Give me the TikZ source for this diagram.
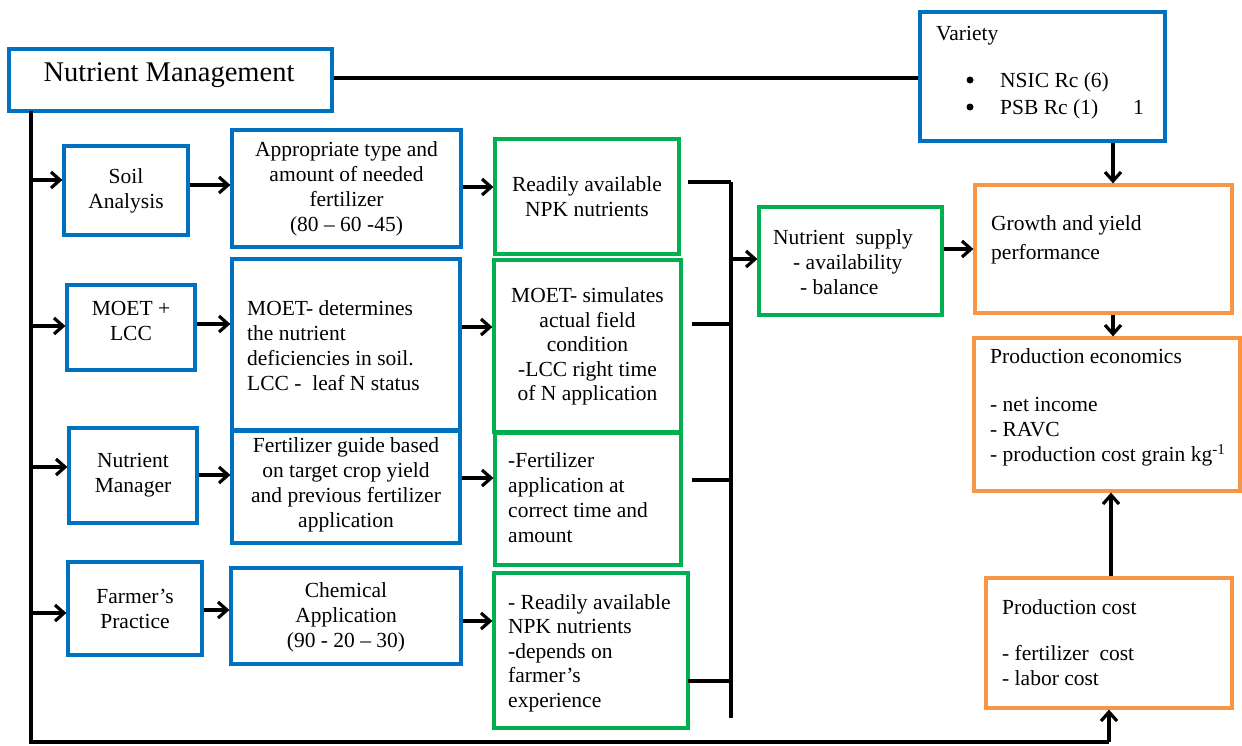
\documentclass[tikz,border=0pt]{standalone}
\usepackage{fontspec}
\setmainfont{Liberation Serif}
\usetikzlibrary{arrows.meta}
\definecolor{bblue}{RGB}{0,112,192}
\definecolor{bgreen}{RGB}{0,176,80}
\definecolor{borange}{RGB}{247,150,70}
\newcommand\fs{\fontsize{21.5}{25}\selectfont}
\begin{document}
\begin{tikzpicture}[x=1pt,y=-1pt,
  box/.style={draw, line width=3.2pt, inner sep=0pt},
  bluebox/.style={box, draw=bblue},
  greenbox/.style={box, draw=bgreen},
  orangebox/.style={box, draw=borange},
  txt/.style={inner sep=0pt, font=\fs, align=center},
  ltxt/.style={inner sep=0pt, font=\fs, align=left},
  bulletdot/.style={circle, fill=black, inner sep=0pt, minimum size=7pt},
  conn/.style={line width=3.2pt, black},
  arr/.style={conn, -{Straight Barb[length=9pt,width=16pt]}},
]
\useasboundingbox (0,0) rectangle (1242,745);
\fill[white] (0,0) rectangle (1242,745);

% ---- boxes ----
\node[bluebox, minimum width=323pt, minimum height=62pt] (nm) at (170.5,80) {};
\node[inner sep=0pt, font=\fontsize{28.5}{32}\selectfont, anchor=base] (nmt) at (169,81) {Nutrient Management};

\node[bluebox, minimum width=245pt, minimum height=129pt] (var) at (1042.5,76.5) {};
\node[inner sep=0pt, font=\fs, anchor=base west] (vart) at (936,40) {Variety};
\node[bulletdot] (bul1) at (970,80) {};
\node[inner sep=0pt, font=\fs, anchor=base west] (var1) at (1000,87) {NSIC Rc (6)};
\node[bulletdot] (bul2) at (970,107) {};
\node[inner sep=0pt, font=\fs, anchor=base west] (var2) at (1000,114) {PSB Rc (1)};
\node[inner sep=0pt, font=\fs, anchor=base west] (var3) at (1133,114) {1};

% column 1
\node[bluebox, minimum width=124pt, minimum height=89pt] (soil) at (126,190.5) {};
\node[txt] (soilt) at (126,191) {Soil\\Analysis};
\node[bluebox, minimum width=128pt, minimum height=85pt] (lcc) at (131,327.5) {};
\node[txt] (lcct) at (131,321) {MOET +\\LCC};
\node[bluebox, minimum width=128pt, minimum height=95pt] (nmg) at (133,475.5) {};
\node[txt] (nmgt) at (133,475) {Nutrient\\Manager};
\node[bluebox, minimum width=134pt, minimum height=93pt] (fp) at (135,608.5) {};
\node[txt] (fpt) at (135,608.5) {Farmer’s\\Practice};

% column 2
\node[bluebox, minimum width=229pt, minimum height=117pt] (app) at (346.5,188.5) {};
\node[txt] (appt) at (346.5,188.5) {Appropriate type and\\amount of needed\\fertilizer\\(80 – 60 -45)};
\node[bluebox, minimum width=228pt, minimum height=171pt] (mdet) at (346,344.5) {};
\node[ltxt, anchor=west] (mdett) at (247,345.5) {MOET- determines\\the nutrient\\deficiencies in soil.\\LCC -\ \ leaf N status};
\node[bluebox, minimum width=228pt, minimum height=112pt] (fg) at (346,487) {};
\node[txt] (fgt) at (346,485) {Fertilizer guide based\\on target crop yield\\and previous fertilizer\\application};
\node[bluebox, minimum width=230pt, minimum height=96pt] (chem) at (346,616) {};
\node[txt] (chemt) at (346,617.5) {Chemical\\Application\\(90 - 20 – 30)};

% column 3
\node[greenbox, minimum width=184pt, minimum height=115pt] (ra1) at (587,196.5) {};
\node[txt] (ra1t) at (587,196.5) {Readily available\\NPK nutrients};
\node[greenbox, minimum width=187pt, minimum height=172pt] (msim) at (587.5,346) {};
\node[txt, font=\fontsize{21.5}{24.5}\selectfont] (msimt) at (587.5,346.5) {MOET- simulates\\actual field\\condition\\-LCC right time\\of N application};
\node[greenbox, minimum width=186pt, minimum height=132pt] (fa) at (588,499) {};
\node[ltxt, anchor=west] (fat) at (508,497.5) {-Fertilizer\\application at\\correct time and\\amount};
\node[greenbox, minimum width=194pt, minimum height=155pt] (ra2) at (591,650.5) {};
\node[ltxt, anchor=west, font=\fontsize{21.5}{24.5}\selectfont] (ra2t) at (508,653) {- Readily available\\NPK nutrients\\-depends on\\farmer’s\\experience};

% nutrient supply
\node[greenbox, minimum width=183pt, minimum height=108pt] (ns) at (850.5,261) {};
\node[ltxt, anchor=west] (nst) at (773,262.5) {Nutrient\ \ supply\\\hspace*{20pt}- availability\\\hspace*{27pt}- balance};

% right column
\node[orangebox, minimum width=257pt, minimum height=128pt] (gy) at (1103.5,249) {};
\node[ltxt, anchor=west, font=\fontsize{21.5}{29}\selectfont] (gyt) at (991,240) {Growth and yield\\performance};
\node[orangebox, minimum width=266pt, minimum height=153pt] (pe) at (1107,414.5) {};
\node[ltxt, anchor=west] (pet) at (990,407.5) {Production economics\\[23pt]- net income\\- RAVC\\- production cost grain kg\textsuperscript{-1}};
\node[orangebox, minimum width=246pt, minimum height=130pt] (pc) at (1109,643) {};
\node[ltxt, anchor=west] (pct) at (1002,643) {Production cost\\[21pt]- fertilizer\ \ cost\\- labor cost};

% ---- helper coordinates ----
\coordinate (tTop) at (31,111);
\coordinate (tBot) at (31,742);
\coordinate (bR) at (1109,742);
\coordinate (a1) at (31,180);
\coordinate (a2) at (31,326);
\coordinate (a3) at (31,467);
\coordinate (a4) at (31,613);
\coordinate (b1) at (0,185);
\coordinate (b2) at (0,324);
\coordinate (b3) at (0,475);
\coordinate (b4) at (0,610);
\coordinate (c1) at (0,187);
\coordinate (c2) at (0,327);
\coordinate (c3) at (0,478);
\coordinate (c4) at (0,621);
\coordinate (k1) at (688,182);
\coordinate (k2) at (692,324);
\coordinate (k3) at (692,480);
\coordinate (k4) at (688,681);
\coordinate (bxT) at (731,182);
\coordinate (bxB) at (731,718);
\coordinate (bxA) at (731,259);
\coordinate (ny) at (0,249);
\coordinate (vx) at (1113,0);
\coordinate (vx2) at (1111,0);

% ---- connectors ----
\draw[conn] ([yshift=2pt]nm.east) -- ([yshift=2pt]nm.east -| var.west);
\draw[conn] (tTop) -- (tBot) -- (bR);
\draw[arr] (bR) -- (pc.south);

\draw[arr] (a1) -- (a1 -| soil.west);
\draw[arr] (a2) -- (a2 -| lcc.west);
\draw[arr] (a3) -- (a3 -| nmg.west);
\draw[arr] (a4) -- (a4 -| fp.west);

\draw[arr] (soil.east |- b1) -- (app.west |- b1);
\draw[arr] (lcc.east |- b2) -- (mdet.west |- b2);
\draw[arr] (nmg.east |- b3) -- (fg.west |- b3);
\draw[arr] (fp.east |- b4) -- (chem.west |- b4);

\draw[arr] (app.east |- c1) -- (ra1.west |- c1);
\draw[arr] (mdet.east |- c2) -- (msim.west |- c2);
\draw[arr] (fg.east |- c3) -- (fa.west |- c3);
\draw[arr] (chem.east |- c4) -- (ra2.west |- c4);

\draw[conn] (k1) -- (k1 -| bxT);
\draw[conn] (k2) -- (k2 -| bxT);
\draw[conn] (k3) -- (k3 -| bxT);
\draw[conn] (k4) -- (k4 -| bxT);
\draw[conn] (bxT) -- (bxB);
\draw[arr] (bxA) -- (bxA -| ns.west);

\draw[arr] (ns.east |- ny) -- (gy.west |- ny);
\draw[arr] (var.south -| vx) -- (gy.north -| vx);
\draw[arr] (gy.south -| vx) -- (pe.north -| vx);
\draw[arr] (pc.north -| vx2) -- (pe.south -| vx2);
\end{tikzpicture}
\end{document}
